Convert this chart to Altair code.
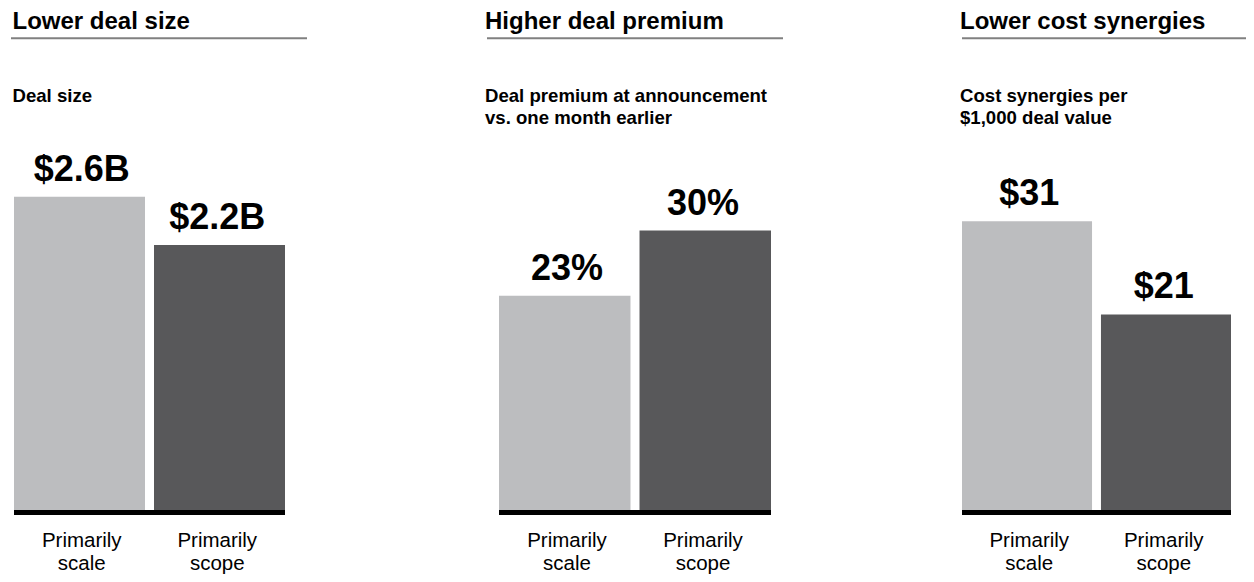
import altair as alt
import pandas as pd

FONT = "Liberation Sans"

categories = ["Primarily scale", "Primarily scope"]
titles = ["Lower deal size", "Higher deal premium", "Lower cost synergies"]
subtitles = ["Deal size",
             "Deal premium at announcement\nvs. one month earlier",
             "Cost synergies per\n$1,000 deal value"]
deal_size = [2.6, 2.2]
deal_premium = [23, 30]
cost_synergies = [31, 21]
value_labels = [["$2.6B", "$2.2B"], ["23%", "30%"], ["$31", "$21"]]
bar_colors = ["#bcbdbf", "#58585a"]

# layout (pixels inside the plot area)
W, H = 1238, 566
BAR_BOTTOM = 502
bar_ranges = [[6, 277], [491, 763], [954, 1223]]
y_max = [4.166, 53.9, 53.9]
title_x = [4.5, 477, 952]
rule_x = [[3, 299], [479, 775], [954, 1246]]
PI = 0.0643


def panel(i, values):
    df = pd.DataFrame({"cat": categories, "value": values, "label": value_labels[i]})
    x = alt.X("cat:N", sort=categories,
              scale=alt.Scale(paddingInner=PI, paddingOuter=0, range=bar_ranges[i]),
              axis=None)
    y = alt.Y("value:Q", scale=alt.Scale(domain=[0, y_max[i]], range=[BAR_BOTTOM, 0],
                                         nice=False, zero=True), axis=None)
    base = alt.Chart(df)
    bars = base.mark_bar().encode(
        x=x, y=y,
        color=alt.Color("cat:N", scale=alt.Scale(domain=categories, range=bar_colors), legend=None),
    )
    labels = base.mark_text(dy=-16, baseline="alphabetic", fontSize=36, fontWeight="bold",
                            font=FONT, color="#000000").encode(x=x, y=y, text="label:N")
    cats = base.mark_text(baseline="alphabetic", fontSize=20.5, font=FONT, color="#000000",
                          lineBreak=" ", lineHeight=23).encode(
        x=x, y=alt.value(538.5), text="cat:N")
    one = alt.Chart(pd.DataFrame({"t": [titles[i]], "s": [subtitles[i]]}))
    baseline = one.mark_rule(color="#000000", strokeWidth=5).encode(
        x=alt.value(bar_ranges[i][0]), x2=alt.value(bar_ranges[i][1]), y=alt.value(BAR_BOTTOM + 2.5))
    title = one.mark_text(align="left", baseline="alphabetic", fontSize=24, fontWeight="bold",
                          font=FONT, color="#000000").encode(
        x=alt.value(title_x[i]), y=alt.value(21), text="t:N")
    underline = one.mark_rule(color="#808080", strokeWidth=2).encode(
        x=alt.value(rule_x[i][0]), x2=alt.value(rule_x[i][1]), y=alt.value(30.3))
    subtitle = one.mark_text(align="left", baseline="alphabetic", fontSize=18.6, fontWeight="bold",
                             font=FONT, color="#000000", lineBreak="\n", lineHeight=22).encode(
        x=alt.value(title_x[i]), y=alt.value(93.5), text="s:N")
    return [bars, labels, cats, baseline, title, underline, subtitle]


layers = panel(0, deal_size) + panel(1, deal_premium) + panel(2, cost_synergies)

chart = alt.layer(*layers).resolve_scale(
    x="independent", y="independent", color="independent"
).properties(
    width=W, height=H,
    autosize=alt.AutoSizeParams(type="none"),
    padding=0,
).configure_view(stroke=None)

chart.save("out.html", embed_options={"renderer": "svg", "actions": False})
